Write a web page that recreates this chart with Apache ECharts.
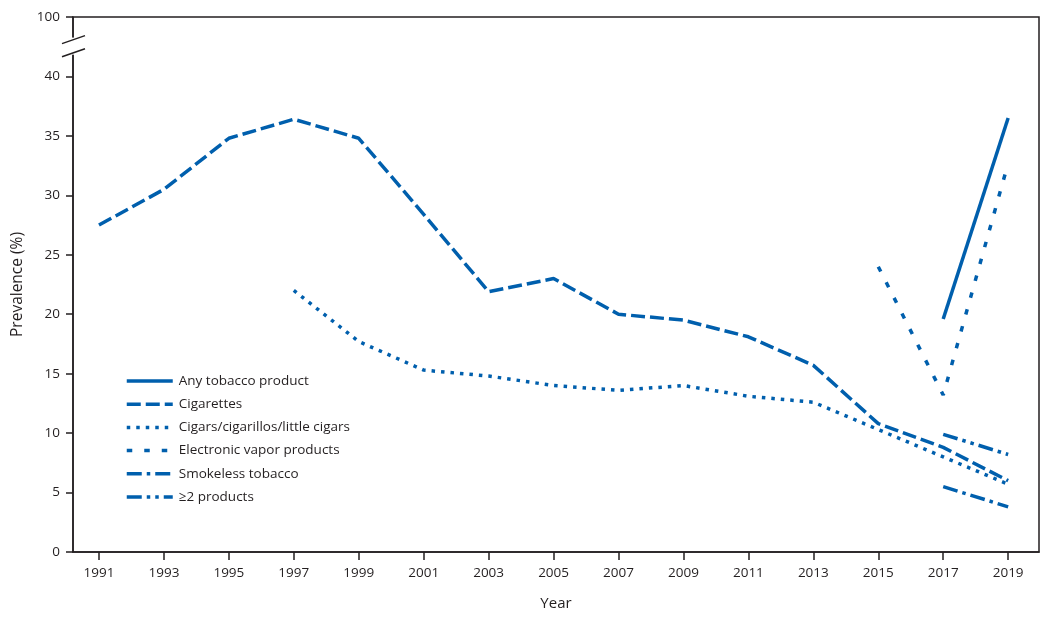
<html lang="en">
<head>
  <meta charset="UTF-8">
  <title>Tobacco product use prevalence</title>
  <style>
    html, body { margin: 0; padding: 0; background: #fff; }
    #chart { width: 1058px; height: 621px; }
  </style>
</head>
<body>
  <div id="chart"></div>
  <script src="https://cdn.jsdelivr.net/npm/echarts@6/dist/echarts.min.js"></script>
  <script>
    // survey years
    const years = [1991, 1993, 1995, 1997, 1999, 2001, 2003, 2005, 2007, 2009, 2011, 2013, 2015, 2017, 2019]
    // prevalence (%) per year, null = not measured
    const anyTobacco = [null, null, null, null, null, null, null, null, null, null, null, null, null, 19.6, 36.5]
    const cigarettes = [27.5, 30.5, 34.8, 36.4, 34.8, 28.4, 21.9, 23.0, 20.0, 19.5, 18.1, 15.7, 10.8, 8.8, 6.0]
    const cigars = [null, null, null, 22.0, 17.7, 15.3, 14.8, 14.0, 13.6, 14.0, 13.1, 12.6, 10.3, 8.0, 5.7]
    const vapor = [null, null, null, null, null, null, null, null, null, null, null, null, 24.0, 13.2, 32.7]
    const smokeless = [null, null, null, null, null, null, null, null, null, null, null, null, null, 5.5, 3.8]
    const twoPlus = [null, null, null, null, null, null, null, null, null, null, null, null, null, 9.9, 8.2]
    const yTicks = [0, 5, 10, 15, 20, 25, 30, 35, 40, 45]
    const topLabel = '100'   // value 45 on the axis stands for 100 (broken axis)

    const blue = '#005fad'
    const ink = '#231f20'
    const font = 'Open Sans'

    const pairs = arr => years.map((y, i) => [y, arr[i]])

    function line(name, arr, dash) {
      return {
        name: name,
        type: 'line',
        data: pairs(arr),
        symbol: 'none',
        connectNulls: false,
        lineStyle: { color: blue, width: 3.5, type: dash, cap: 'butt' },
        itemStyle: { color: blue }
      }
    }

    const chart = echarts.init(document.getElementById('chart'))
    const option = {
      animation: false,
      textStyle: { fontFamily: font, color: ink },
      grid: {
        left: 73, right: 19, top: 17, bottom: 69,
        show: true, borderColor: ink, borderWidth: 1.5, backgroundColor: 'transparent'
      },
      legend: {
        orient: 'vertical',
        left: 120,
        top: 369,
        itemWidth: 46,
        itemHeight: 14,
        itemGap: 9.2,
        itemStyle: { opacity: 0, borderWidth: 0 },
        lineStyle: { width: 3.5 },
        textStyle: { fontFamily: font, fontSize: 13.5, color: ink, padding: [0, 0, 0, 1] },
        data: ['Any tobacco product', 'Cigarettes', 'Cigars/cigarillos/little cigars',
          'Electronic vapor products', 'Smokeless tobacco', '≥2 products']
      },
      xAxis: {
        type: 'value',
        min: 1990.2,
        max: 2019.95,
        name: 'Year',
        nameLocation: 'middle',
        nameGap: 44,
        nameTextStyle: { fontFamily: font, fontSize: 15, color: ink },
        axisLine: { lineStyle: { color: ink, width: 1.5 } },
        axisTick: { show: true, length: 8, lineStyle: { color: ink, width: 1.5 }, customValues: years },
        axisLabel: {
          fontFamily: font, fontSize: 13.5, color: ink, margin: 14, customValues: years,
          formatter: v => String(v)
        },
        splitLine: { show: false }
      },
      yAxis: {
        type: 'value',
        min: 0,
        max: 45,
        name: 'Prevalence (%)',
        nameLocation: 'middle',
        nameGap: 45,
        nameTextStyle: { fontFamily: font, fontSize: 15.5, color: ink },
        axisLine: { show: true, lineStyle: { color: ink, width: 1.5 } },
        axisTick: { show: true, length: 7, lineStyle: { color: ink, width: 1.5 }, customValues: yTicks },
        axisLabel: {
          fontFamily: font, fontSize: 13.5, color: ink, margin: 13, customValues: yTicks,
          formatter: v => (v === 45 ? topLabel : String(v))
        },
        splitLine: { show: false }
      },
      series: [
        line('Any tobacco product', anyTobacco, 'solid'),
        line('Cigarettes', cigarettes, [14, 5]),
        line('Cigars/cigarillos/little cigars', cigars, [3.5, 6]),
        line('Electronic vapor products', vapor, [5.5, 12]),
        line('Smokeless tobacco', smokeless, [15, 5, 3.5, 5]),
        line('≥2 products', twoPlus, [15, 5, 3.5, 5, 3.5, 5])
      ]
    }
    chart.setOption(option)

    // axis break marks between 40 and 100
    const ax = chart.convertToPixel({ gridIndex: 0 }, [1990.2, 43.1])
    const bx = chart.convertToPixel({ gridIndex: 0 }, [1990.2, 42.0])
    const x0 = ax[0]
    chart.setOption({
      graphic: [
        { type: 'rect', z: 100, shape: { x: x0 - 3, y: ax[1] - 2, width: 6, height: bx[1] - ax[1] + 4 }, style: { fill: '#fff' } },
        { type: 'line', z: 101, shape: { x1: x0 - 11, y1: ax[1] + 4, x2: x0 + 12, y2: ax[1] - 4 }, style: { stroke: ink, lineWidth: 1.5 } },
        { type: 'line', z: 101, shape: { x1: x0 - 11, y1: bx[1] + 4, x2: x0 + 12, y2: bx[1] - 4 }, style: { stroke: ink, lineWidth: 1.5 } }
      ]
    })
  </script>
</body>
</html>
